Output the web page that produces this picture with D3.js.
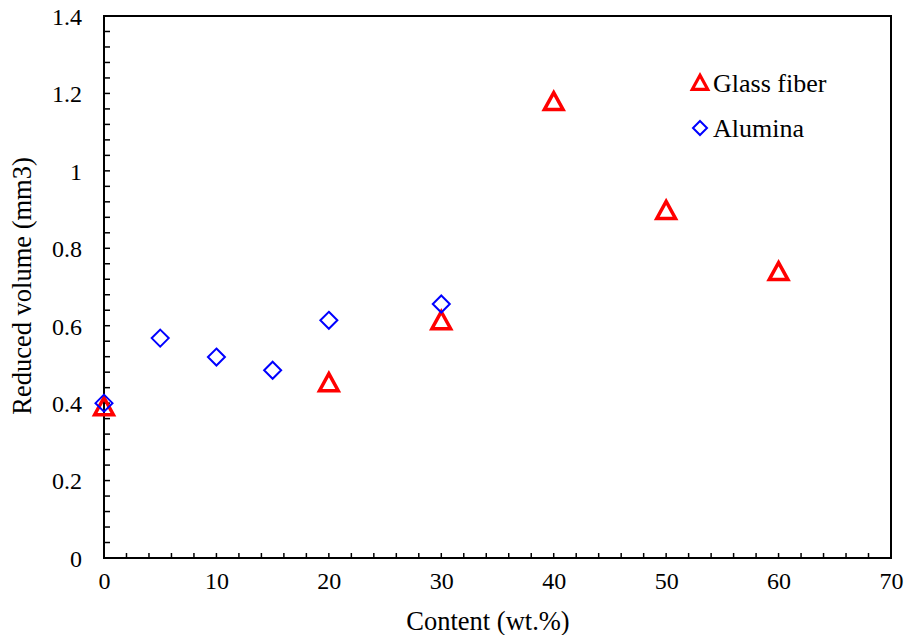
<!DOCTYPE html>
<html>
<head>
<meta charset="utf-8">
<script src="https://cdn.jsdelivr.net/npm/d3@7"></script>
<style>
  html, body { margin: 0; padding: 0; background: #fff; }
</style>
</head>
<body>
<svg id="chart" width="908" height="635"></svg>
<script>
// Reduced volume versus filler content for two fillers
const glassContent = [0, 20, 30, 40, 50, 60];
const glassVolume  = [0.39, 0.452, 0.612, 1.178, 0.897, 0.739];
const aluminaContent = [0, 5, 10, 15, 20, 30];
const aluminaVolume  = [0.40, 0.568, 0.519, 0.485, 0.614, 0.656];
const xTicks = [0, 10, 20, 30, 40, 50, 60, 70];
const yTicks = [0, 0.2, 0.4, 0.6, 0.8, 1, 1.2, 1.4];
const seriesNames = ["Glass fiber", "Alumina"];

const serif = "'Times New Roman', 'Liberation Serif', 'DejaVu Serif', serif";

const svg = d3.select("#chart");
const plotL = 104, plotR = 891, plotT = 16, plotB = 558;

const x = d3.scaleLinear().domain([0, 70]).range([plotL, plotR]);
const y = d3.scaleLinear().domain([0, 1.4]).range([plotB, plotT]);

const tickFont = 24, titleFont = 26.5, legendFont = 26;

const g = svg.append("g");

// Minor ticks, pointing into the plot
const xMinor = d3.range(0, 70.001, 2);
const yMinor = d3.range(0, 1.4001, 0.04);
g.selectAll(".xminor").data(xMinor).join("line")
  .attr("x1", d => x(d)).attr("x2", d => x(d))
  .attr("y1", plotB).attr("y2", plotB - 5)
  .attr("stroke", "#000").attr("stroke-width", 1.5);
g.selectAll(".yminor").data(yMinor).join("line")
  .attr("x1", plotL).attr("x2", plotL + 6)
  .attr("y1", d => y(d)).attr("y2", d => y(d))
  .attr("stroke", "#000").attr("stroke-width", 1.5);

// Plot border
g.append("rect")
  .attr("x", plotL).attr("y", plotT)
  .attr("width", plotR - plotL).attr("height", plotB - plotT)
  .attr("fill", "none").attr("stroke", "#000").attr("stroke-width", 2);

// Tick labels
const xAxis = d3.axisBottom(x).tickValues(xTicks).tickSize(0).tickPadding(0).tickFormat(d3.format("d"));
const xg = svg.append("g").attr("transform", `translate(0,${plotB})`).call(xAxis)
  .attr("font-family", serif).attr("font-size", tickFont);
xg.select(".domain").remove();
xg.selectAll("text").style("font-family", serif).style("font-size", tickFont + "px")
  .attr("fill", "#000").attr("dy", null).attr("y", 31);

const yAxis = d3.axisLeft(y).tickValues(yTicks).tickSize(0).tickPadding(0).tickFormat(d => String(+d.toFixed(1)));
const yg = svg.append("g").attr("transform", `translate(${plotL},0)`).call(yAxis)
  .attr("font-family", serif).attr("font-size", tickFont);
yg.select(".domain").remove();
yg.selectAll("text").style("font-family", serif).style("font-size", tickFont + "px")
  .attr("fill", "#000").attr("x", -22).attr("dy", "0.35em");

// Axis titles
svg.append("text")
  .attr("x", 488).attr("y", 630)
  .attr("text-anchor", "middle")
  .style("font-family", serif).style("font-size", titleFont + "px")
  .text("Content (wt.%)");
svg.append("text")
  .attr("transform", `translate(31,286) rotate(-90)`)
  .attr("text-anchor", "middle")
  .style("font-family", serif).style("font-size", titleFont + "px")
  .text("Reduced volume (mm3)");

// Marker shapes
const triPath = (s) => `M0,${-s * 0.55}L${s * 0.55},${s * 0.45}L${-s * 0.55},${s * 0.45}Z`;
const diaPath = (s) => `M0,${-s}L${s},0L0,${s}L${-s},0Z`;

// Glass fiber triangles
svg.append("g").selectAll("path")
  .data(glassContent.map((c, i) => [c, glassVolume[i]]))
  .join("path")
  .attr("d", triPath(17))
  .attr("transform", d => `translate(${x(d[0])},${y(d[1])})`)
  .attr("fill", "none").attr("stroke", "#ff0000").attr("stroke-width", 3.5)
  .attr("stroke-linejoin", "miter");

// Alumina diamonds
svg.append("g").selectAll("path")
  .data(aluminaContent.map((c, i) => [c, aluminaVolume[i]]))
  .join("path")
  .attr("d", diaPath(8.5))
  .attr("transform", d => `translate(${x(d[0])},${y(d[1])})`)
  .attr("fill", "none").attr("stroke", "#0000ff").attr("stroke-width", 2);

// Legend
const legend = svg.append("g");
legend.append("path").attr("d", triPath(14))
  .attr("transform", "translate(700,83)")
  .attr("fill", "none").attr("stroke", "#ff0000").attr("stroke-width", 3.2);
legend.append("text").attr("x", 713).attr("y", 92)
  .style("font-family", serif).style("font-size", legendFont + "px").text(seriesNames[0]);
legend.append("path").attr("d", diaPath(7))
  .attr("transform", "translate(700,128)")
  .attr("fill", "none").attr("stroke", "#0000ff").attr("stroke-width", 2);
legend.append("text").attr("x", 713).attr("y", 137)
  .style("font-family", serif).style("font-size", legendFont + "px").text(seriesNames[1]);
</script>
</body>
</html>
